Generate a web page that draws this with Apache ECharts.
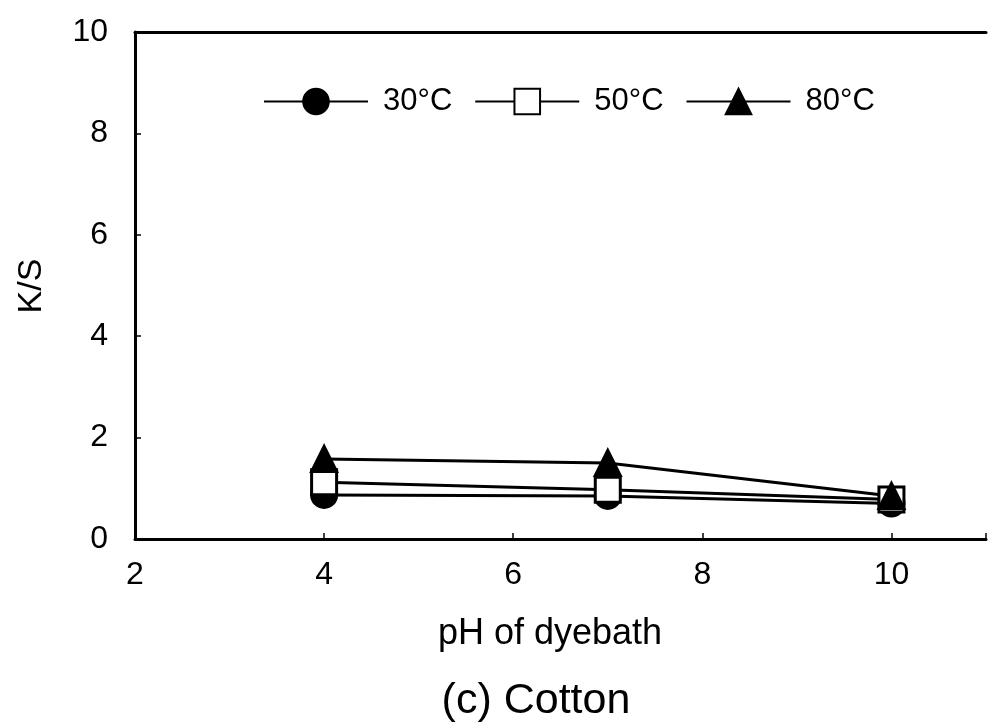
<!DOCTYPE html>
<html>
<head>
<meta charset="utf-8">
<script src="https://cdn.jsdelivr.net/npm/echarts@6/dist/echarts.min.js"></script>
<style>
  html, body { margin: 0; padding: 0; background: #fff; }
  #chart { width: 989px; height: 724px; }
</style>
</head>
<body>
<div id="chart"></div>
<script>
// pH values and K/S per temperature
const phValues = [4, 7, 10];
const ks30 = [0.87, 0.85, 0.70];
const ks50 = [1.12, 0.97, 0.78];
const ks80 = [1.58, 1.50, 0.85];
const seriesNames = ['30°C', '50°C', '80°C'];

const chart = echarts.init(document.getElementById('chart'));
const font = 'Liberation Sans, Arial, sans-serif';

function pairs(ys) {
  return phValues.map((x, i) => [x, ys[i]]);
}

function lineSeries(name, ys, symbol, fill) {
  return {
    name: name,
    type: 'line',
    data: pairs(ys),
    symbol: symbol,
    symbolSize: 25,
    showAllSymbol: true,
    lineStyle: { color: '#000', width: 3 },
    itemStyle: { color: fill, borderColor: '#000', borderWidth: 3 },
    emphasis: { disabled: true },
    z: 3
  };
}

chart.setOption({
  backgroundColor: '#fff',
  animation: false,
  textStyle: { fontFamily: font },
  grid: { left: 135, top: 32, right: 0, bottom: 185 },
  legend: {
    left: 263,
    top: 86,
    padding: 0,
    itemWidth: 104,
    itemHeight: 32,
    itemGap: 22,
    textStyle: { fontSize: 31, color: '#000', padding: [0, 0, 0, 10] },
    data: seriesNames
  },
  graphic: [
    { type: 'text', x: 32, y: 286, rotation: Math.PI / 2,
      style: { text: 'K/S', font: '34px ' + font, fill: '#000', align: 'center', verticalAlign: 'middle' } },
    { type: 'text', x: 550, y: 634,
      style: { text: 'pH of dyebath', font: '36px ' + font, fill: '#000', align: 'center', verticalAlign: 'middle' } },
    { type: 'text', x: 536, y: 701,
      style: { text: '(c) Cotton', font: '43px ' + font, fill: '#000', align: 'center', verticalAlign: 'middle' } }
  ],
  xAxis: [{
    type: 'value',
    min: 2,
    max: 11,
    interval: 2,
    axisLine: { lineStyle: { color: '#000', width: 3 } },
    axisTick: { inside: true, length: 6, lineStyle: { color: '#000', width: 1.5 } },
    axisLabel: {
      fontSize: 32, color: '#000', margin: 20,
      formatter: v => (v % 2 === 0 ? v : '')
    },
    splitLine: { show: false }
  }, {
    type: 'value',
    position: 'top',
    min: 2,
    max: 11,
    axisLine: { show: true, lineStyle: { color: '#000', width: 3 } },
    axisTick: { show: false },
    axisLabel: { show: false },
    splitLine: { show: false }
  }],
  yAxis: {
    type: 'value',
    min: 0,
    max: 10,
    interval: 2,
    axisLine: { show: true, lineStyle: { color: '#000', width: 3 } },
    axisTick: { show: true, inside: true, length: 6, lineStyle: { color: '#000', width: 1.5 } },
    axisLabel: { fontSize: 32, color: '#000', margin: 27 },
    splitLine: { show: false }
  },
  series: [
    lineSeries(seriesNames[0], ks30, 'circle', '#000'),
    lineSeries(seriesNames[1], ks50, 'rect', '#fff'),
    lineSeries(seriesNames[2], ks80, 'triangle', '#000')
  ]
});
</script>
</body>
</html>
